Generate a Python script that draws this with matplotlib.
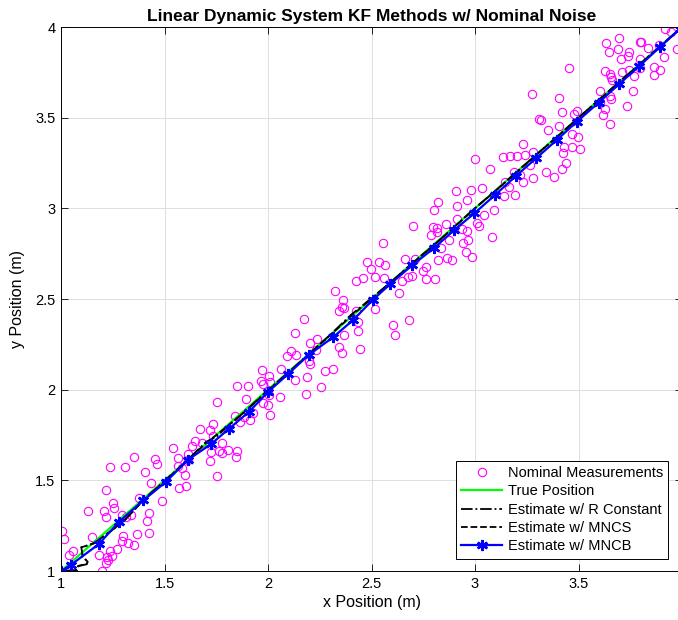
import matplotlib
matplotlib.use('Agg')
import matplotlib.pyplot as plt
from matplotlib.ticker import FuncFormatter

plt.rcParams['font.family'] = ['Liberation Sans', 'DejaVu Sans']

meas_x = [1.005, 1.016, 1.040, 1.057, 1.131, 1.150, 1.183, 1.199, 1.207, 1.215,
          1.215, 1.218, 1.223, 1.228, 1.235, 1.239, 1.248, 1.252, 1.256, 1.272,
          1.293, 1.296, 1.299, 1.309, 1.312, 1.325, 1.337, 1.353, 1.353, 1.369,
          1.379, 1.408, 1.417, 1.424, 1.427, 1.436, 1.456, 1.466, 1.487, 1.539,
          1.563, 1.566, 1.568, 1.583, 1.599, 1.604, 1.615, 1.615, 1.631, 1.647,
          1.671, 1.683, 1.720, 1.720, 1.725, 1.733, 1.736, 1.752, 1.754, 1.764,
          1.777, 1.780, 1.809, 1.840, 1.845, 1.848, 1.850, 1.866, 1.882, 1.896,
          1.901, 1.914, 1.926, 1.966, 1.969, 1.974, 1.974, 2.001, 2.001, 2.003,
          2.006, 2.011, 2.011, 2.060, 2.063, 2.092, 2.112, 2.128, 2.131, 2.136,
          2.173, 2.184, 2.189, 2.200, 2.204, 2.205, 2.233, 2.238, 2.255, 2.277,
          2.314, 2.325, 2.341, 2.345, 2.358, 2.358, 2.362, 2.369, 2.369, 2.427,
          2.427, 2.434, 2.434, 2.443, 2.460, 2.476, 2.498, 2.519, 2.519, 2.535,
          2.555, 2.560, 2.563, 2.605, 2.612, 2.633, 2.649, 2.660, 2.676, 2.681,
          2.698, 2.701, 2.709, 2.749, 2.762, 2.762, 2.785, 2.795, 2.801, 2.806,
          2.814, 2.814, 2.822, 2.822, 2.838, 2.859, 2.866, 2.875, 2.887, 2.906,
          2.911, 2.914, 2.935, 2.940, 2.956, 2.960, 2.963, 2.968, 2.979, 2.984,
          3.000, 3.008, 3.021, 3.032, 3.044, 3.073, 3.081, 3.092, 3.136, 3.141,
          3.146, 3.162, 3.168, 3.189, 3.193, 3.205, 3.217, 3.233, 3.234, 3.243,
          3.266, 3.273, 3.278, 3.282, 3.307, 3.319, 3.343, 3.351, 3.383, 3.404,
          3.404, 3.419, 3.421, 3.424, 3.432, 3.440, 3.456, 3.469, 3.469, 3.476,
          3.492, 3.497, 3.505, 3.605, 3.605, 3.617, 3.630, 3.630, 3.633, 3.649,
          3.654, 3.654, 3.654, 3.657, 3.659, 3.662, 3.691, 3.694, 3.707, 3.710,
          3.735, 3.738, 3.743, 3.743, 3.762, 3.767, 3.795, 3.795, 3.799, 3.804,
          3.836, 3.864, 3.864, 3.888, 3.892, 3.913, 3.917, 3.945, 3.977]
meas_y = [1.222, 1.177, 1.088, 1.112, 1.333, 1.186, 1.088, 1.002, 1.333, 1.296,
          1.046, 1.447, 1.079, 1.061, 1.574, 1.112, 1.083, 1.373, 1.346, 1.121,
          1.165, 1.309, 1.193, 1.575, 1.296, 1.153, 1.309, 1.627, 1.143, 1.204,
          1.401, 1.548, 1.277, 1.318, 1.208, 1.486, 1.618, 1.590, 1.388, 1.680,
          1.622, 1.579, 1.459, 1.566, 1.530, 1.467, 1.645, 1.612, 1.689, 1.719,
          1.782, 1.708, 1.778, 1.608, 1.658, 1.745, 1.811, 1.524, 1.930, 1.664,
          1.704, 1.652, 1.667, 1.855, 1.631, 2.020, 1.664, 1.824, 1.851, 1.947,
          2.022, 1.833, 1.873, 2.050, 2.109, 2.031, 1.928, 1.994, 1.916, 2.077,
          1.971, 2.044, 1.860, 1.958, 2.113, 2.186, 2.215, 2.311, 2.053, 2.191,
          2.388, 1.976, 2.068, 2.160, 2.142, 2.256, 2.219, 2.278, 2.015, 2.105,
          2.114, 2.546, 2.436, 2.237, 2.454, 2.201, 2.495, 2.449, 2.302, 2.601,
          2.436, 2.375, 2.325, 2.223, 2.614, 2.703, 2.664, 2.620, 2.443, 2.703,
          2.811, 2.614, 2.688, 2.357, 2.302, 2.535, 2.601, 2.719, 2.624, 2.384,
          2.629, 2.903, 2.721, 2.655, 2.679, 2.611, 2.853, 2.899, 2.991, 2.609,
          2.893, 2.871, 3.037, 2.715, 2.783, 2.912, 2.724, 2.826, 2.715, 3.096,
          2.942, 3.015, 2.886, 2.807, 2.761, 3.046, 2.875, 2.826, 3.101, 2.734,
          3.272, 2.918, 2.905, 3.111, 2.964, 3.217, 2.844, 2.991, 3.285, 3.070,
          3.147, 3.120, 3.290, 3.202, 3.074, 3.290, 3.184, 3.143, 3.353, 3.294,
          3.239, 3.629, 3.169, 3.309, 3.493, 3.488, 3.199, 3.432, 3.175, 3.607,
          3.456, 3.533, 3.217, 3.304, 3.341, 3.249, 3.776, 3.408, 3.341, 3.519,
          3.539, 3.395, 3.328, 3.649, 3.588, 3.515, 3.759, 3.546, 3.910, 3.865,
          3.741, 3.620, 3.466, 3.603, 3.723, 3.708, 3.880, 3.938, 3.822, 3.754,
          3.565, 3.841, 3.865, 3.763, 3.649, 3.730, 3.920, 3.822, 3.772, 3.915,
          3.884, 3.777, 3.736, 3.902, 3.763, 3.834, 3.988, 3.971, 3.880]

# true trajectory
true_x = [1.0, 4.0]
true_y = [1.0, 4.0]

# estimate w/ R constant
rc_x = [1.0, 1.078, 1.083, 1.123, 1.129, 1.105, 1.098, 1.134, 1.159, 1.199,
        1.248, 1.312, 1.400, 1.500, 1.600, 1.700, 1.750, 1.800, 1.900, 2.000,
        2.100, 2.200, 2.300, 2.400, 2.500, 2.600, 2.700, 2.800, 2.900, 3.000,
        3.100, 3.200, 3.300, 3.400, 3.500, 3.600, 3.700, 3.800, 3.900, 4.000]
rc_y = [1.0, 1.006, 1.028, 1.037, 1.051, 1.079, 1.131, 1.143, 1.153, 1.186,
        1.226, 1.285, 1.395, 1.497, 1.600, 1.712, 1.740, 1.792, 1.892, 1.998,
        2.097, 2.200, 2.302, 2.412, 2.505, 2.600, 2.701, 2.795, 2.898, 3.002,
        3.098, 3.200, 3.300, 3.398, 3.500, 3.600, 3.700, 3.800, 3.900, 4.000]

# estimate w/ MNCS
ms_x = [1.0, 1.078, 1.083, 1.123, 1.129, 1.105, 1.098, 1.134, 1.159, 1.199,
        1.250, 1.310, 1.400, 1.500, 1.600, 1.700, 1.800, 1.900, 2.000, 2.100,
        2.200, 2.300, 2.400, 2.500, 2.600, 2.700, 2.800, 2.900, 3.000, 3.100,
        3.200, 3.300, 3.400, 3.500, 3.600, 3.700, 3.800, 3.900, 4.000]
ms_y = [1.0, 1.006, 1.028, 1.037, 1.051, 1.079, 1.131, 1.143, 1.153, 1.186,
        1.228, 1.283, 1.393, 1.495, 1.598, 1.705, 1.795, 1.890, 1.995, 2.095,
        2.198, 2.300, 2.405, 2.502, 2.598, 2.700, 2.796, 2.897, 3.000, 3.097,
        3.198, 3.299, 3.398, 3.499, 3.599, 3.699, 3.799, 3.899, 4.000]

# estimate w/ MNCB
mb_x = [1.0, 1.049, 1.183, 1.279, 1.397, 1.505, 1.615, 1.725, 1.812, 1.909,
        2.001, 2.096, 2.196, 2.314, 2.411, 2.506, 2.589, 2.698, 2.801, 2.900,
        2.997, 3.097, 3.198, 3.295, 3.395, 3.492, 3.597, 3.697, 3.794, 3.892,
        3.990]
mb_y = [1.0, 1.035, 1.149, 1.270, 1.389, 1.490, 1.615, 1.700, 1.785, 1.879,
        1.989, 2.085, 2.191, 2.289, 2.384, 2.495, 2.581, 2.688, 2.780, 2.881,
        2.973, 3.074, 3.179, 3.276, 3.377, 3.478, 3.583, 3.686, 3.785, 3.888,
        3.990]

fig = plt.figure(figsize=(6.78, 6.2), dpi=100)
ax = fig.add_axes([0.0900, 0.0790, 0.9159, 0.8774])

ax.plot(meas_x, meas_y, 'o', color='#ff00ff', mfc='none', ms=6, mew=0.8,
        label='Nominal Measurements')
ax.plot(true_x, true_y, color='#00ff00', lw=1.6, label='True Position')
ax.plot(rc_x, rc_y, color='k', lw=1.3, ls='-.', label='Estimate w/ R Constant')
ax.plot(ms_x, ms_y, color='k', lw=1.3, ls='--', label='Estimate w/ MNCS')
ax.plot(mb_x, mb_y, color='#0000ff', lw=1.6, marker=(6, 2, 0), ms=8, mew=1.8,
        label='Estimate w/ MNCB')

ax.set_xlim(1, 4)
ax.set_ylim(1, 4)
ticks = [1, 1.5, 2, 2.5, 3, 3.5, 4]
ax.set_xticks(ticks)
ax.set_yticks(ticks)
fmt = FuncFormatter(lambda v, p: '%g' % v)
ax.xaxis.set_major_formatter(fmt)
ax.yaxis.set_major_formatter(fmt)
ax.tick_params(direction='in', top=True, right=True, length=5, width=0.6,
               labelsize=10.5, pad=4)
ax.grid(True, color='#dedede', lw=0.7)
ax.set_axisbelow(True)
for s in ax.spines.values():
    s.set_linewidth(0.7)

ax.set_xlabel('x Position (m)', fontsize=11.5, labelpad=3)
ax.set_ylabel('y Position (m)', fontsize=11.5, labelpad=7)
ax.set_title('Linear Dynamic System KF Methods w/ Nominal Noise',
             fontsize=12.5, fontweight='bold', pad=4)

leg = ax.legend(loc='lower right', bbox_to_anchor=(0.978, 0.023),
                borderaxespad=0, fontsize=10.5, fancybox=False, framealpha=1,
                edgecolor='k', handlelength=2.8, handletextpad=0.4,
                labelspacing=0.3, borderpad=0.35)
leg.get_frame().set_linewidth(0.7)

plt.savefig('out.png', dpi=100)
